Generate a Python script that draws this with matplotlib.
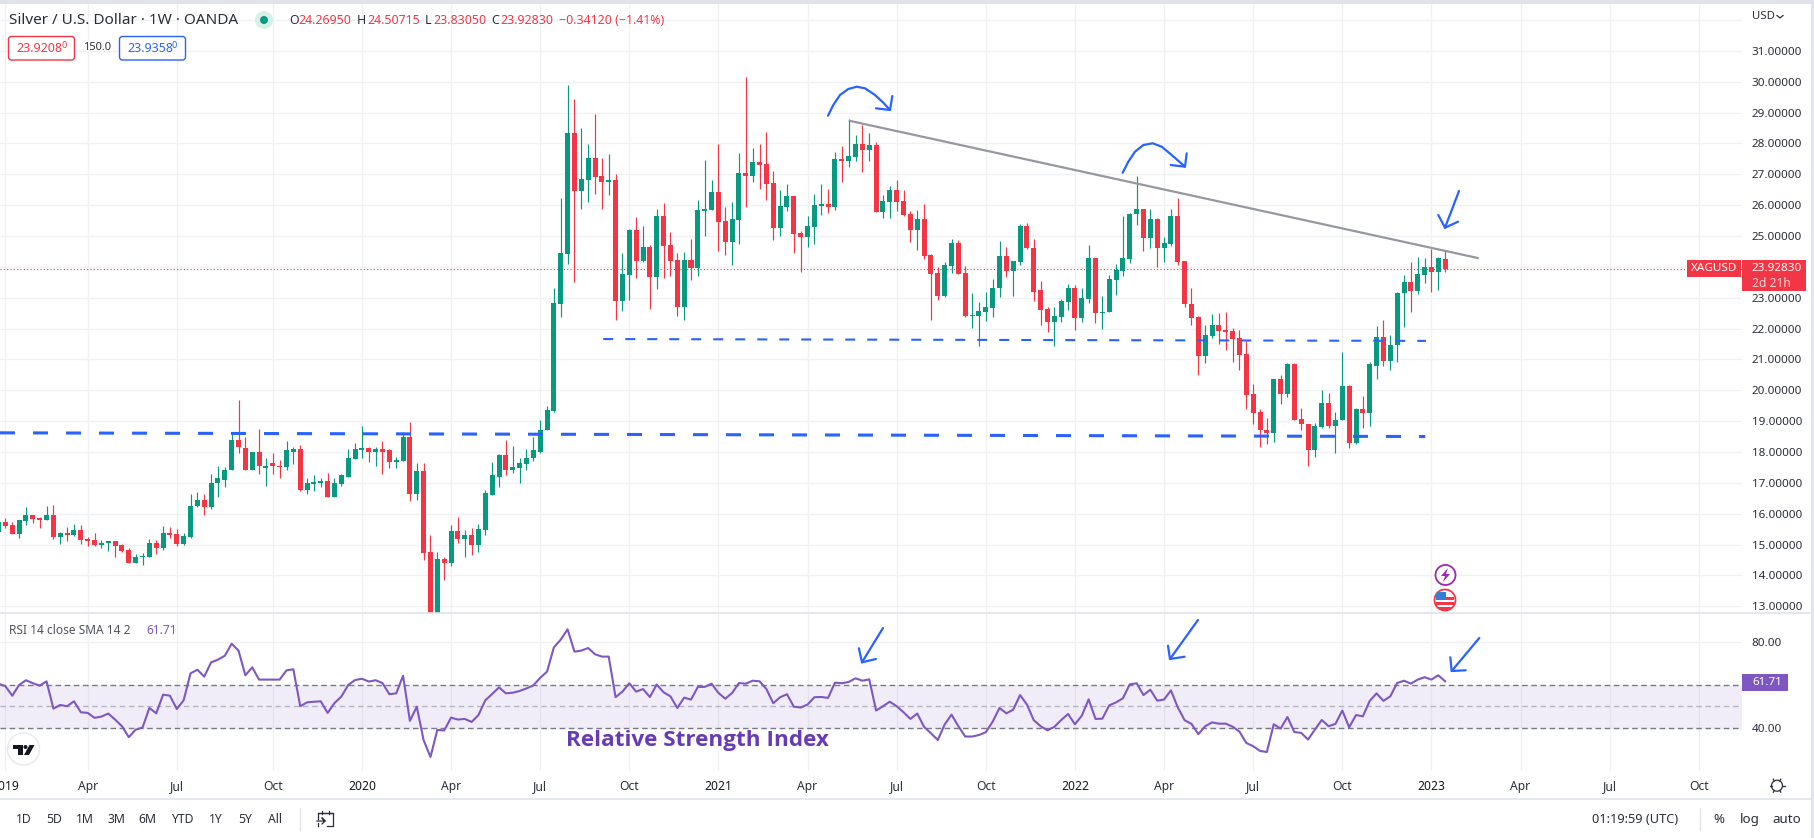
import numpy as np
import matplotlib
matplotlib.use('Agg')
import matplotlib.pyplot as plt
from matplotlib.patches import Rectangle, Circle, Polygon, FancyBboxPatch

plt.rcParams['font.family'] = ['Noto Sans', 'DejaVu Sans']
plt.rcParams['lines.scale_dashes'] = False

# weekly candles, index 0 is the first week of 2019
opens = [15.41,
    15.73, 15.63, 15.34, 15.76, 15.95, 15.86, 15.80, 15.95, 15.24, 15.37,
    15.30, 15.47, 15.18, 15.15, 14.98, 15.05, 15.11, 14.98, 14.82, 14.40,
    14.60, 14.60, 15.05, 14.89, 15.37, 15.34, 15.02, 15.24, 16.25, 16.44,
    16.20, 17.00, 17.10, 17.40, 18.40, 18.14, 17.43, 18.00, 17.47, 17.65,
    17.53, 17.50, 18.00, 18.10, 16.78, 16.95, 16.98, 17.05, 16.55, 16.95,
    17.20, 17.78, 18.05, 18.14, 18.00, 18.10, 18.05, 17.66, 17.72, 18.50,
    16.65, 17.37, 14.76, 12.40, 14.53, 14.40, 15.44, 15.18, 15.30, 14.98,
    15.47, 16.62, 17.20, 17.89, 17.43, 17.47, 17.60, 17.80, 18.00, 18.70,
    19.33, 22.80, 24.42, 28.34, 26.46, 26.82, 27.53, 26.95, 26.75, 26.82,
    22.90, 23.74, 25.20, 24.20, 24.65, 23.68, 25.65, 24.71, 24.23, 22.70,
    24.23, 23.96, 25.82, 25.85, 26.43, 25.49, 24.81, 25.52, 27.04, 26.95,
    27.40, 27.33, 26.72, 25.26, 25.94, 26.30, 25.10, 24.97, 25.30, 25.98,
    26.04, 25.94, 27.50, 27.43, 27.56, 27.98, 27.79, 27.95, 25.78, 26.10,
    26.49, 26.14, 25.72, 25.20, 25.56, 24.39, 23.81, 23.06, 24.03, 24.78,
    23.81, 22.41, 22.41, 22.55, 22.67, 23.30, 24.35, 23.87, 24.16, 25.33,
    24.60, 23.25, 22.63, 22.20, 22.38, 22.86, 23.32, 22.35, 22.96, 24.30,
    22.50, 22.53, 23.58, 23.87, 24.26, 25.70, 25.88, 24.94, 25.56, 24.60,
    24.75, 25.65, 24.20, 22.81, 22.38, 21.11, 21.76, 22.12, 21.96, 21.93,
    21.70, 21.17, 19.87, 19.30, 18.72, 18.60, 20.37, 19.88, 20.84, 19.08,
    18.92, 18.05, 18.82, 19.60, 18.85, 19.05, 20.15, 18.30, 19.40, 19.25,
    20.80, 21.72, 20.95, 21.47, 23.14, 23.50, 23.22, 23.74, 24.00, 23.84,
    24.27]
highs = [15.75,
    15.86, 15.73, 15.80, 16.22, 15.95, 15.89, 16.25, 16.28, 15.41, 15.57,
    15.67, 15.63, 15.24, 15.37, 15.15, 15.11, 15.11, 15.02, 14.89, 14.70,
    14.73, 15.18, 15.15, 15.60, 15.57, 15.50, 15.37, 16.63, 16.70, 16.63,
    17.27, 17.53, 17.50, 18.65, 19.67, 18.47, 18.00, 18.75, 17.80, 17.98,
    17.75, 18.34, 18.17, 18.24, 17.14, 17.24, 17.14, 17.33, 17.14, 17.27,
    18.08, 18.28, 18.85, 18.17, 18.17, 18.37, 18.10, 17.85, 18.65, 18.97,
    17.63, 17.63, 15.30, 14.76, 14.60, 15.63, 15.89, 15.47, 15.53, 15.67,
    16.76, 17.66, 17.92, 18.40, 18.20, 17.82, 18.10, 18.47, 19.05, 19.50,
    23.32, 26.23, 29.90, 29.44, 28.50, 27.98, 28.95, 27.53, 27.66, 27.00,
    24.46, 25.23, 25.62, 25.33, 24.71, 25.88, 26.07, 25.13, 24.46, 24.49,
    24.90, 26.17, 27.46, 26.82, 27.98, 25.94, 26.10, 27.69, 30.15, 27.85,
    27.98, 28.37, 27.11, 26.49, 26.69, 26.30, 25.17, 25.65, 26.36, 26.69,
    26.53, 27.72, 27.92, 28.79, 28.27, 28.60, 28.34, 28.05, 26.33, 26.62,
    26.82, 26.49, 25.81, 25.85, 26.04, 24.42, 24.00, 24.16, 24.91, 24.88,
    24.03, 23.16, 22.86, 23.20, 23.61, 24.83, 24.65, 24.20, 25.39, 25.43,
    24.90, 23.55, 22.70, 22.70, 22.96, 23.45, 23.41, 23.32, 24.72, 24.30,
    23.05, 23.74, 24.10, 25.65, 25.75, 26.95, 25.88, 25.88, 25.59, 24.97,
    25.88, 26.24, 24.20, 23.33, 22.42, 22.12, 22.47, 22.50, 22.54, 22.02,
    21.96, 21.60, 20.20, 19.40, 19.10, 20.37, 20.50, 20.87, 20.87, 19.43,
    18.92, 18.95, 20.02, 19.92, 19.30, 21.25, 20.18, 19.43, 19.80, 20.90,
    22.07, 22.28, 21.80, 23.17, 23.72, 24.16, 24.33, 24.30, 24.58, 24.33,
    24.51]
lows = [15.30,
    15.53, 15.34, 15.22, 15.63, 15.70, 15.53, 15.80, 15.18, 15.02, 15.12,
    15.27, 15.02, 14.95, 14.95, 14.89, 14.79, 14.60, 14.76, 14.40, 14.40,
    14.34, 14.60, 14.70, 14.82, 15.20, 14.95, 14.98, 15.20, 16.22, 15.95,
    16.14, 16.55, 16.88, 17.40, 17.98, 17.43, 17.43, 17.30, 16.90, 17.30,
    17.17, 17.43, 17.60, 16.72, 16.65, 16.75, 16.85, 16.55, 16.55, 16.90,
    17.20, 17.78, 17.80, 17.66, 17.55, 17.30, 17.47, 17.47, 17.72, 16.42,
    16.45, 14.50, 11.70, 12.20, 13.85, 14.30, 15.05, 14.60, 14.66, 14.76,
    15.30, 16.62, 16.88, 17.24, 17.33, 16.98, 17.40, 17.72, 17.98, 18.70,
    19.30, 22.38, 24.10, 23.52, 25.88, 26.10, 26.36, 25.88, 26.33, 22.29,
    22.58, 22.93, 23.65, 24.16, 22.64, 23.29, 23.65, 23.71, 22.42, 22.29,
    23.58, 23.71, 25.00, 25.85, 24.52, 24.39, 24.07, 24.75, 25.94, 26.75,
    26.53, 26.17, 24.88, 25.00, 25.81, 24.46, 23.84, 24.65, 24.75, 25.68,
    25.75, 25.85, 26.75, 27.24, 27.43, 27.08, 27.43, 25.78, 25.59, 25.59,
    25.81, 25.65, 24.81, 24.55, 24.26, 22.29, 22.93, 23.03, 23.81, 23.78,
    22.38, 22.02, 21.44, 22.25, 22.38, 23.03, 23.68, 23.06, 24.07, 24.58,
    22.90, 22.10, 21.90, 21.45, 22.20, 22.60, 21.96, 22.20, 22.84, 22.18,
    22.00, 22.53, 23.09, 23.71, 24.13, 25.36, 24.50, 24.60, 24.00, 24.17,
    24.68, 24.06, 22.70, 22.12, 20.50, 20.88, 21.70, 21.50, 21.30, 20.90,
    20.65, 19.40, 18.92, 18.15, 18.27, 18.33, 19.55, 19.78, 19.05, 18.72,
    17.55, 17.85, 18.78, 18.78, 17.98, 19.05, 18.13, 18.27, 18.78, 18.85,
    20.38, 20.80, 20.65, 20.90, 22.05, 22.55, 23.13, 23.48, 23.17, 23.25,
    23.83]
closes = [15.73,
    15.60, 15.34, 15.80, 15.95, 15.83, 15.80, 15.95, 15.24, 15.37, 15.30,
    15.47, 15.15, 15.11, 14.98, 15.05, 15.11, 14.95, 14.79, 14.40, 14.60,
    14.64, 15.05, 14.89, 15.37, 15.30, 15.02, 15.27, 16.25, 16.44, 16.22,
    17.00, 17.14, 17.43, 18.40, 18.17, 17.43, 18.00, 17.53, 17.53, 17.53,
    17.50, 18.05, 18.10, 16.78, 16.98, 17.01, 17.05, 16.55, 16.98, 17.24,
    17.80, 18.08, 18.14, 18.00, 18.10, 18.00, 17.66, 17.75, 18.50, 16.65,
    17.37, 14.72, 12.60, 14.53, 14.40, 15.44, 15.18, 15.30, 14.98, 15.50,
    16.67, 17.24, 17.89, 17.43, 17.50, 17.63, 17.82, 18.05, 18.72, 19.35,
    22.84, 24.46, 28.34, 26.46, 26.85, 27.53, 26.91, 26.75, 26.82, 22.90,
    23.78, 25.20, 24.20, 24.65, 23.68, 25.65, 24.68, 24.20, 22.70, 24.23,
    23.96, 25.85, 25.88, 26.43, 25.46, 24.81, 25.56, 27.04, 26.95, 27.40,
    27.30, 26.69, 25.26, 25.98, 26.30, 25.07, 24.97, 25.33, 26.01, 26.04,
    25.94, 27.50, 27.43, 27.59, 27.98, 27.79, 27.95, 25.78, 26.14, 26.49,
    26.10, 25.68, 25.20, 25.56, 24.36, 23.78, 23.06, 24.07, 24.78, 23.78,
    22.41, 22.45, 22.57, 22.70, 23.32, 24.35, 23.87, 24.20, 25.33, 24.60,
    23.20, 22.60, 22.20, 22.40, 22.90, 23.32, 22.35, 23.00, 24.30, 22.50,
    22.55, 23.60, 23.90, 24.30, 25.72, 25.88, 24.94, 25.56, 24.60, 24.78,
    25.65, 24.16, 22.78, 22.35, 21.11, 21.80, 22.12, 21.93, 21.90, 21.66,
    21.14, 19.84, 19.27, 18.70, 18.60, 20.37, 19.88, 20.84, 19.05, 18.90,
    18.05, 18.85, 19.60, 18.85, 19.05, 20.15, 18.30, 19.40, 19.25, 20.84,
    21.72, 20.95, 21.47, 23.16, 23.50, 23.22, 23.77, 24.00, 23.84, 24.30,
    23.93]
rsi = [60.6,
    59.4, 55.0, 60.0, 62.2, 60.8, 59.7, 61.7, 49.0, 50.7, 50.1,
    52.4, 47.3, 47.0, 44.7, 45.3, 46.7, 43.9, 40.8, 35.7, 39.2,
    40.2, 49.3, 46.8, 55.5, 55.0, 48.8, 52.9, 65.4, 67.1, 63.9,
    70.5, 71.8, 73.6, 79.2, 76.0, 64.5, 68.2, 62.5, 62.5, 62.5,
    62.5, 66.8, 67.3, 50.1, 51.9, 52.2, 52.4, 47.0, 51.6, 54.6,
    60.0, 62.3, 62.9, 61.6, 62.2, 60.9, 55.7, 56.1, 64.3, 43.3,
    49.9, 34.3, 26.5, 39.1, 38.8, 44.8, 43.9, 44.2, 42.8, 46.0,
    52.9, 55.8, 58.9, 56.1, 56.4, 57.2, 58.4, 59.8, 63.3, 66.2,
    77.5, 81.1, 85.9, 75.5, 76.0, 77.2, 74.3, 73.2, 73.2, 54.3,
    56.9, 60.8, 56.9, 58.1, 54.4, 60.2, 56.6, 54.7, 49.3, 54.1,
    53.2, 59.1, 59.1, 60.6, 56.3, 53.6, 56.3, 60.9, 60.6, 62.0,
    61.7, 58.1, 51.5, 54.3, 55.7, 49.9, 49.5, 50.9, 54.3, 54.4,
    54.0, 61.1, 60.8, 61.4, 63.1, 62.0, 62.6, 48.1, 50.1, 52.2,
    50.1, 47.3, 44.2, 46.7, 40.5, 37.5, 34.4, 41.6, 46.2, 40.8,
    36.0, 36.0, 36.7, 38.0, 42.9, 49.3, 46.8, 48.5, 55.3, 50.9,
    43.6, 40.8, 38.9, 40.5, 43.7, 46.5, 41.7, 45.7, 53.3, 44.2,
    44.3, 50.5, 51.9, 53.8, 60.3, 60.8, 55.3, 57.8, 52.7, 53.2,
    57.5, 49.6, 43.6, 41.9, 37.1, 40.8, 42.6, 42.0, 42.0, 40.6,
    38.3, 33.0, 31.5, 29.3, 28.8, 41.7, 39.7, 45.1, 38.1, 37.7,
    34.6, 39.2, 43.7, 40.8, 41.9, 48.1, 40.3, 46.0, 45.4, 52.6,
    56.1, 52.6, 54.7, 60.9, 62.0, 60.6, 62.5, 63.6, 62.5, 64.5,
    61.71]
weeks = np.arange(-1, 211)

price_ticks = list(range(13, 32))
tick_weeks = [0, 12, 25, 39, 52, 65, 78, 91, 104, 117, 130, 143, 156, 169, 182,
              195, 208, 221, 234, 247]
tick_names = ['2019', 'Apr', 'Jul', 'Oct', '2020', 'Apr', 'Jul', 'Oct', '2021', 'Apr', 'Jul',
              'Oct', '2022', 'Apr', 'Jul', 'Oct', '2023', 'Apr', 'Jul', 'Oct']
last_price = 23.9283

# drawn lines, (week, price)
trend_x, trend_y = [123.0, 214.9], [28.74, 24.28]
support1_x, support1_y = [87.2, 207.2], [21.66, 21.60]
support2_x, support2_y = [-0.79, 207.1], [18.62, 18.50]

UP = '#089981'
DOWN = '#f23645'
BLUE = '#2962ff'
PURPLE = '#7e57c2'
GRID = '#f0f1f5'
TEXT = '#2a2e39'
W, H = 1814, 838


def box(left, top, right, bottom):
    return [left / W, 1 - bottom / H, (right - left) / W, (bottom - top) / H]


fig = plt.figure(figsize=(W / 100, H / 100), dpi=100, facecolor='white')
ax = fig.add_axes(box(0, 4, 1742, 613))
ax_rsi = fig.add_axes(box(0, 613, 1742, 770.7))

# price panel
ax.set_xlim(-0.79, 253.3)
ax.set_ylim(12.78, 32.52)
ax.set_yticks(price_ticks + [32])
ax.set_yticklabels(['%.5f' % p for p in price_ticks] + [''])
ax.yaxis.tick_right()
ax.set_xticks(tick_weeks)
ax.tick_params(axis='x', length=0, labelbottom=False)
ax.tick_params(axis='y', length=0, pad=7, labelsize=8.4, labelcolor=TEXT)
ax.grid(True, color=GRID, lw=1)
ax.set_axisbelow(True)
for s in ax.spines.values():
    s.set_visible(False)

o = np.array(opens)
c = np.array(closes)
colors = [UP if a >= b else DOWN for a, b in zip(c, o)]
ax.vlines(weeks, lows, highs, colors=colors, lw=0.85, zorder=2)
ax.bar(weeks, np.abs(c - o), bottom=np.minimum(o, c), width=0.73, color=colors, lw=0, zorder=3)

ax.axhline(last_price, color=DOWN, lw=0.8, dashes=(0.8, 1.6), zorder=4)
ax.plot(trend_x, trend_y, color='#9598a1', lw=1.6, zorder=5, solid_capstyle='butt')
ax.plot(support1_x, support1_y, color=BLUE, lw=1.5, dashes=(7.2, 8.64), dash_capstyle='butt', zorder=5)
ax.plot(support2_x, support2_y, color=BLUE, lw=2.2, dashes=(10.8, 12.96), dash_capstyle='butt', zorder=5)

# rsi panel, 60 sits at 685.3 and 40 at 728.3
ax_rsi.set_xlim(-0.79, 253.3)
ax_rsi.set_ylim(20.1, 93.5)
ax_rsi.set_yticks([40, 80])
ax_rsi.set_yticklabels(['40.00', '80.00'])
ax_rsi.yaxis.tick_right()
ax_rsi.set_xticks(tick_weeks)
ax_rsi.set_xticklabels(tick_names)
ax_rsi.tick_params(axis='y', length=0, pad=7, labelsize=8.4, labelcolor=TEXT)
ax_rsi.tick_params(axis='x', length=0, pad=7, labelsize=8.7, labelcolor=TEXT)
for lab in ax_rsi.get_xticklabels():
    if lab.get_text().isdigit():
        lab.set_color('#131722')
ax_rsi.grid(True, color=GRID, lw=1)
ax_rsi.set_axisbelow(True)
for s in ax_rsi.spines.values():
    s.set_visible(False)
ax_rsi.axhspan(40, 60, color=PURPLE, alpha=0.1, lw=0, zorder=1)
ax_rsi.axhline(60, color='#787b86', lw=1, dashes=(4, 2.6), zorder=2)
ax_rsi.axhline(50, color='#b2b5be', lw=1, dashes=(4, 2.6), zorder=2)
ax_rsi.axhline(40, color='#787b86', lw=1, dashes=(4, 2.6), zorder=2)
ax_rsi.plot(weeks, rsi, color=PURPLE, lw=1.5, zorder=3)

# everything around the panels, in pixels
ov = fig.add_axes([0, 0, 1, 1])
ov.set_xlim(0, W)
ov.set_ylim(H, 0)
ov.axis('off')

ov.add_patch(Rectangle((0, 0), W, 4, color='#e0e3eb', lw=0))
ov.add_patch(Rectangle((1811, 0), 3, H, color='#e0e3eb', lw=0))
ov.plot([0, 1811], [613, 613], color='#e0e3eb', lw=1.2)
ov.plot([0, 1811], [799, 799], color='#e0e3eb', lw=1.2)

# header
ov.text(9, 20.5, 'Silver / U.S. Dollar · 1W · OANDA', fontsize=11, color=TEXT, va='center')
ov.add_patch(Circle((264, 20), 9, color='#d6efe9', lw=0))
ov.add_patch(Circle((264, 20), 4, color=UP, lw=0))
for x, s, col in [(289, 'O', TEXT), (298, '24.26950', DOWN), (357, 'H', TEXT), (367, '24.50715', DOWN),
                  (425, 'L', TEXT), (433, '23.83050', DOWN), (491, 'C', TEXT), (500, '23.92830', DOWN),
                  (559, '−0.34120 (−1.41%)', DOWN)]:
    ov.text(x, 21, s, fontsize=8.9, color=col, va='center')
ov.add_patch(FancyBboxPatch((8.5, 36.5), 66, 23.5, boxstyle='round,pad=0,rounding_size=3', fc='white', ec=DOWN, lw=1))
ov.text(16, 48.5, '23.9208', fontsize=9, color=DOWN, va='center')
ov.text(62, 46, '0', fontsize=6.5, color=DOWN, va='center')
ov.text(97, 48, '150.0', fontsize=8, color=TEXT, va='center', ha='center')
ov.add_patch(FancyBboxPatch((119.5, 36.5), 66, 23.5, boxstyle='round,pad=0,rounding_size=3', fc='white', ec=BLUE, lw=1))
ov.text(127, 48.5, '23.9358', fontsize=9, color=BLUE, va='center')
ov.text(172, 46, '0', fontsize=6.5, color=BLUE, va='center')

# price scale
ov.text(1752, 16.5, 'USD', fontsize=8.2, color=TEXT, va='center')
ov.plot([1777, 1780, 1783], [15.5, 18, 15.5], color=TEXT, lw=0.9)
ov.add_patch(Rectangle((1687, 260), 54, 17, color=DOWN, lw=0))
ov.text(1714, 268.5, 'XAGUSD', fontsize=8.4, color='white', va='center', ha='center')
ov.add_patch(Rectangle((1742, 260), 64, 31, color=DOWN, lw=0))
ov.text(1752, 268.5, '23.92830', fontsize=8.4, color='white', va='center')
ov.text(1752, 283, '2d 21h', fontsize=8.7, color='#fcd7da', va='center')
ov.add_patch(Rectangle((1742, 674), 46, 17, color=PURPLE, lw=0))
ov.text(1752, 682.5, '61.71', fontsize=8.4, color='white', va='center')

# rsi legend and note
ov.text(9, 630.5, 'RSI 14 close SMA 14 2', fontsize=8.6, color='#50535e', va='center')
ov.text(146, 630.5, '61.71', fontsize=8.6, color=PURPLE, va='center')
ov.text(566, 740, 'Relative Strength Index', family='Open Sans', fontsize=16.2, fontweight='bold',
        color='#673ab7', va='center')

# blue pen marks
pen = dict(color=BLUE, lw=1.6, solid_capstyle='round', solid_joinstyle='round')
marks = [
    [(828, 115.7), (833.3, 105), (840, 95), (848.3, 89), (856.7, 86.7), (865, 88.3), (875, 95), (883.3, 102.7), (890, 110)],
    [(876, 108.3), (890, 110), (892.3, 96)],
    [(1122.7, 172.7), (1128.3, 161.7), (1135, 151.7), (1143.3, 145), (1152.7, 143.3), (1161.7, 146.7), (1171.7, 155), (1185, 166.7)],
    [(1170.7, 165), (1185, 166.7), (1186.7, 153.3)],
    [(1459, 191), (1445, 227.7)],
    [(1438.3, 215), (1445, 227.7), (1458, 221.7)],
    [(883, 628), (862, 662.3)],
    [(858.9, 648.3), (862, 662.3), (875.9, 659)],
    [(1198, 620), (1170, 659)],
    [(1168, 645.7), (1170, 659), (1184.6, 656.7)],
    [(1479.3, 638), (1451.7, 671)],
    [(1450.3, 657.3), (1451.7, 671), (1465.7, 670.3)],
]
for m in marks:
    ov.plot([p[0] for p in m], [p[1] for p in m], **pen)

# event icons
ov.add_patch(Circle((1445.5, 575), 10, fc='white', ec='#9c27b0', lw=1.3))
ov.add_patch(Polygon([(1448, 568), (1441, 576), (1445, 576), (1443, 582), (1450, 574), (1446, 574)], color='#9c27b0', lw=0))
flag = Circle((1445, 600), 10.5, fc='white', ec=DOWN, lw=1.3)
ov.add_patch(flag)
for top in (597, 602, 607):
    r = Rectangle((1436, top), 18, 2.8, color=DOWN, lw=0)
    ov.add_patch(r)
    r.set_clip_path(flag)
r = Rectangle((1436, 592), 10, 8, color='#2f7fd6', lw=0)
ov.add_patch(r)
r.set_clip_path(flag)

# tradingview badge
ov.add_patch(Circle((23.5, 749), 16, fc='white', ec='#e8e9ee', lw=1))
ov.add_patch(Polygon([(12.5, 745), (22.5, 745), (22.5, 755), (17.5, 755), (17.5, 749), (12.5, 749)], color='#131722', lw=0))
ov.add_patch(Circle((25.5, 747), 2, color='#131722', lw=0))
ov.add_patch(Polygon([(29.5, 745), (34.5, 745), (29, 755), (24, 755)], color='#131722', lw=0))

# bottom bar
for x, s in [(24, '1D'), (54, '5D'), (85, '1M'), (116, '3M'), (147, '6M'), (182, 'YTD'),
             (216, '1Y'), (245.5, '5Y'), (275.5, 'All')]:
    ov.text(x, 819, s, fontsize=8.8, color=TEXT, va='center', ha='center')
ov.plot([300, 300], [808, 830], color='#e0e3eb', lw=1)
ov.plot([318, 333, 333, 327], [813, 813, 826, 826], color=TEXT, lw=0.9)
ov.plot([318, 318, 333], [819, 813, 813], color=TEXT, lw=0.9)
ov.plot([318, 318], [823, 826], color=TEXT, lw=0.9)
ov.plot([322, 322], [811, 814], color=TEXT, lw=0.9)
ov.plot([329, 329], [811, 814], color=TEXT, lw=0.9)
ov.plot([317, 325, 322, 325, 322], [821, 821, 818, 821, 824], color=TEXT, lw=0.9)

ov.text(1635.5, 819, '01:19:59 (UTC)', fontsize=9.2, color=TEXT, va='center', ha='center')
ov.plot([1699.5, 1699.5], [808, 830], color='#e0e3eb', lw=1)
ov.text(1719, 819, '%', fontsize=9.6, color=TEXT, va='center', ha='center')
ov.text(1749.7, 819, 'log', fontsize=9.6, color=TEXT, va='center', ha='center')
ov.text(1787, 819, 'auto', fontsize=9.6, color=TEXT, va='center', ha='center')

# settings gear
ov.add_patch(Circle((1777, 785.7), 5.5, fc='white', ec=TEXT, lw=0.9))
for a in np.deg2rad([0, 60, 120, 180, 240, 300]):
    ov.plot([1777 + 5.5 * np.cos(a), 1777 + 7.5 * np.cos(a)],
            [785.7 + 5.5 * np.sin(a), 785.7 + 7.5 * np.sin(a)], color=TEXT, lw=0.9)

fig.savefig('out.png', dpi=100)
